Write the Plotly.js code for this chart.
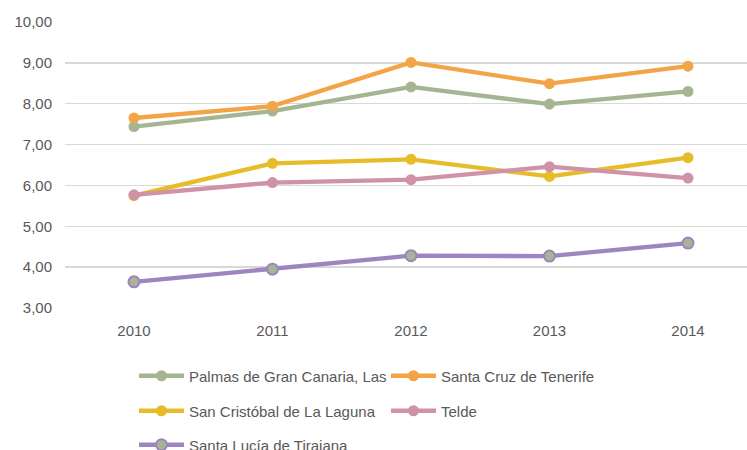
<!DOCTYPE html>
<html>
<head>
<meta charset="utf-8">
<script src="https://cdn.plot.ly/plotly-3.0.1.min.js"></script>
<style>html,body{margin:0;padding:0;background:#fff;}#chart{width:747px;height:450px;}</style>
</head>
<body>
<div id="chart"></div>
<script>
const years = ['2010', '2011', '2012', '2013', '2014'];
const seriesNames = ['Palmas de Gran Canaria, Las', 'Santa Cruz de Tenerife', 'San Cristóbal de La Laguna', 'Telde', 'Santa Lucía de Tirajana'];
const palmas = [7.44, 7.82, 8.41, 7.99, 8.30];
const santaCruz = [7.65, 7.94, 9.01, 8.49, 8.92];
const laguna = [5.75, 6.54, 6.64, 6.22, 6.68];
const telde = [5.77, 6.07, 6.14, 6.46, 6.18];
const santaLucia = [3.64, 3.95, 4.28, 4.27, 4.59];

const colors = ['#a5b592', '#f3a447', '#e7bc29', '#d092a7', '#9c85c0'];
const values = [palmas, santaCruz, laguna, telde, santaLucia];
const legendIds = ['legend', 'legend2', 'legend3', 'legend4', 'legend5'];

const traces = values.map((v, i) => ({
  type: 'scatter', mode: 'lines+markers',
  x: years, y: v, name: seriesNames[i],
  legend: legendIds[i],
  line: {color: colors[i], width: 4.3},
  marker: {
    size: 11,
    color: i === 4 ? colors[0] : colors[i],
    line: {color: colors[i], width: i === 4 ? 2 : 0}
  }
}));

const txt = '#595959';
const font = {family: 'Liberation Sans, Arial, sans-serif', size: 15, color: txt};
const plotL = 65, plotW = 682, plotT = 22, plotH = 286;
function lx(px) { return (px - plotL) / plotW; }
function ly(py) { return (plotT + plotH - py) / plotH; }
function leg(px, py) {
  return {x: lx(px), y: ly(py), xanchor: 'left', yanchor: 'middle', orientation: 'h',
    bgcolor: 'rgba(0,0,0,0)', font: font, itemwidth: 45};
}

const layout = {
  width: 747, height: 450,
  margin: {l: plotL, r: 747 - plotL - plotW, t: plotT, b: 450 - plotT - plotH, autoexpand: false},
  paper_bgcolor: '#ffffff', plot_bgcolor: '#ffffff',
  font: font,
  separators: ',.',
  xaxis: {
    type: 'category', range: [-0.498, 4.426],
    showgrid: false, zeroline: false, showline: false, ticks: '',
    tickfont: font, ticklabelstandoff: 12
  },
  yaxis: {
    range: [3, 10], dtick: 1, tick0: 3, tickformat: '.2f',
    showgrid: true, gridcolor: '#d9d9d9', gridwidth: 1.3,
    zeroline: false, showline: false, ticks: '',
    tickfont: font, ticklabelstandoff: 12
  },
  showlegend: true,
  legend: leg(134, 376),
  legend2: leg(386, 376),
  legend3: leg(134, 411),
  legend4: leg(386, 411),
  legend5: leg(134, 445)
};

Plotly.newPlot('chart', traces, layout, {displayModeBar: false, staticPlot: true});
</script>
</body>
</html>
